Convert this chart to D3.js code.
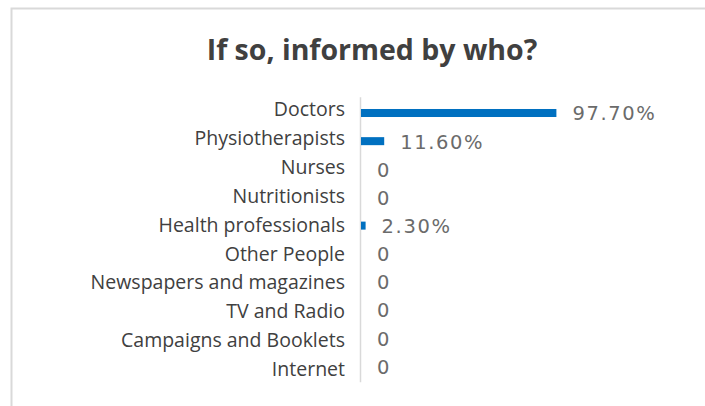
<!DOCTYPE html>
<html>
<head>
<meta charset="utf-8">
<script src="https://cdn.jsdelivr.net/npm/d3@7"></script>
<style>
  html, body { margin: 0; padding: 0; background: #fff; }
  svg { display: block; }
</style>
</head>
<body>
<svg id="chart" width="705" height="406"></svg>
<script>
// Sources of information, in display order (top to bottom)
const categories = [
  "Doctors",
  "Physiotherapists",
  "Nurses",
  "Nutritionists",
  "Health professionals",
  "Other People",
  "Newspapers and magazines",
  "TV and Radio",
  "Campaigns and Booklets",
  "Internet"
];
// Share of respondents (%)
const values = [97.7, 11.6, 0, 0, 2.3, 0, 0, 0, 0, 0];
// Labels printed next to each bar
const valueLabels = ["97.70%", "11.60%", "0", "0", "2.30%", "0", "0", "0", "0", "0"];
const title = "If so, informed by who?";

const svg = d3.select("#chart");
const W = 705, H = 406;

// Chart frame
svg.append("path")
  .attr("d", `M11.5,${H} V8.5 H${W}`)
  .attr("fill", "none")
  .attr("stroke", "#d9d9d9")
  .attr("stroke-width", 2);

// Title
svg.append("text")
  .attr("x", 372)
  .attr("y", 60)
  .attr("text-anchor", "middle")
  .attr("font-family", "'Open Sans', sans-serif")
  .attr("font-weight", "bold")
  .attr("font-size", 28.5)
  .attr("fill", "#404040")
  .text(title);

const x = d3.scaleLinear().domain([0, 100]).range([361, 561]);
const y = d3.scaleBand().domain(categories).range([96.2, 382.2]).paddingInner(0.72).paddingOuter(0.36);
const n = categories.length;

// Category axis
const yAxis = d3.axisLeft(y).tickSize(0).tickPadding(15);
const gAxis = svg.append("g")
  .attr("transform", `translate(${x(0) - 1},0)`)
  .call(yAxis);
gAxis.select(".domain").attr("stroke", "#d9d9d9").attr("stroke-width", 1.5)
  .attr("d", `M0.5,${y.range()[0] + 1}V${y.range()[1]}`);
gAxis.selectAll(".tick text")
  .attr("font-family", "'Open Sans', sans-serif")
  .attr("font-size", 19.5)
  .attr("fill", "#404040")
  .attr("dy", (d, i) => (0.32 + (-0.8 + 2.8 * i / (n - 1)) / 19.5) + "em");

// Bars sit slightly lower at the top rows than the labels
const barShift = i => 2.5 - 4 * i / (n - 1);

svg.append("g").selectAll("rect")
  .data(values)
  .join("rect")
  .attr("x", x(0))
  .attr("y", (d, i) => y(categories[i]) + barShift(i))
  .attr("width", d => Math.max(0, x(d) - x(0)))
  .attr("height", y.bandwidth())
  .attr("fill", "#0070c0");

// Value labels
svg.append("g").selectAll("text")
  .data(values)
  .join("text")
  .attr("x", d => x(d) + 16)
  .attr("y", (d, i) => y(categories[i]) + barShift(i) + y.bandwidth() / 2)
  .attr("dy", "0.38em")
  .attr("font-family", "'DejaVu Sans', Verdana, sans-serif")
  .attr("font-size", 19.5)
  .attr("letter-spacing", 1.6)
  .attr("fill", "#6b6b6b")
  .text((d, i) => valueLabels[i]);
</script>
</body>
</html>
